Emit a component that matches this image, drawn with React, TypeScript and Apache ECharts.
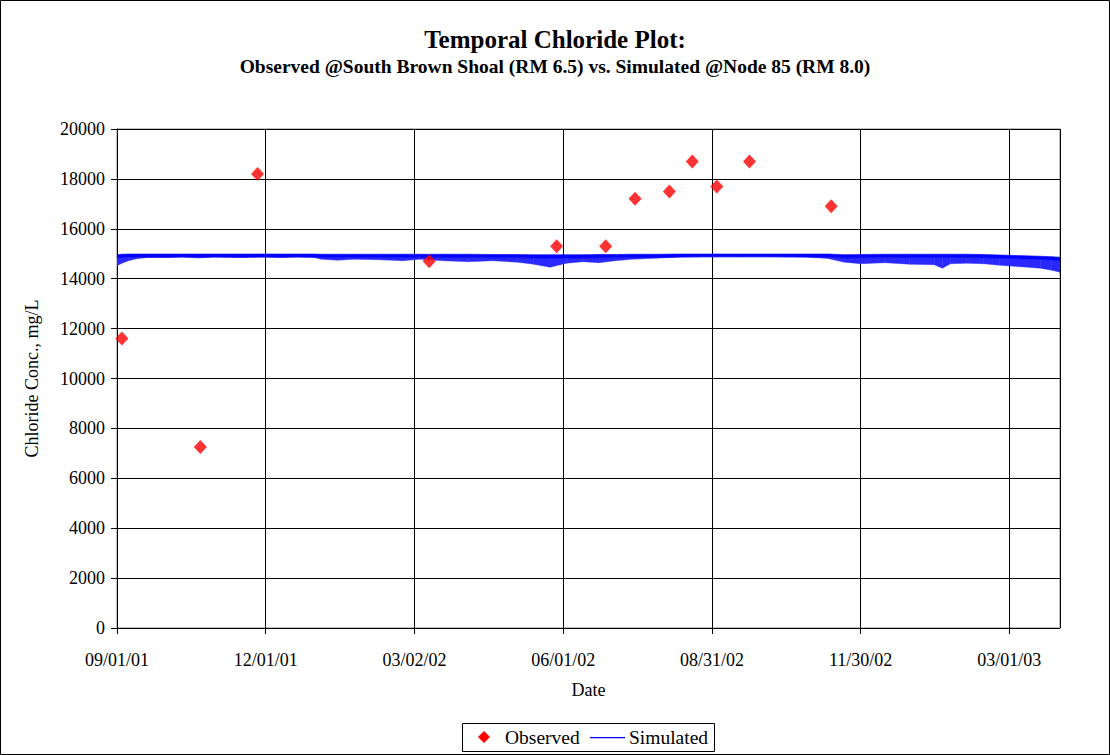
import React, { useEffect, useRef } from "react";
import * as echarts from "echarts";

// ---- Data ----
const observedDates = [
  "2001-09-04", "2001-10-22", "2001-11-26", "2002-03-11", "2002-05-28", "2002-06-27",
  "2002-07-15", "2002-08-05", "2002-08-19", "2002-09-03", "2002-09-23", "2002-11-12",
];
const observedValues = [11600, 7250, 18200, 14700, 15300, 15300, 17200, 17500, 18700, 17700, 18700, 16900];

// Simulated series: upper and lower envelope of the dense model trace
const simDates = [
  "2001-09-01", "2001-09-04", "2001-09-08", "2001-09-13", "2001-09-21", "2001-10-01",
  "2001-10-11", "2001-10-21", "2001-10-31", "2001-11-15", "2001-11-30", "2001-12-10",
  "2001-12-20", "2001-12-30", "2002-01-04", "2002-01-14", "2002-01-24", "2002-02-08",
  "2002-02-23", "2002-03-05", "2002-03-20", "2002-04-04", "2002-04-19", "2002-05-04",
  "2002-05-14", "2002-05-24", "2002-06-03", "2002-06-13", "2002-06-23", "2002-07-03",
  "2002-07-13", "2002-07-28", "2002-08-12", "2002-08-27", "2002-09-16", "2002-10-06",
  "2002-10-27", "2002-11-10", "2002-11-20", "2002-11-30", "2002-12-15", "2002-12-30",
  "2003-01-14", "2003-01-19", "2003-01-24", "2003-02-03", "2003-02-13", "2003-02-23",
  "2003-03-10", "2003-03-20", "2003-03-27", "2003-04-01",
];
const simHigh = [
  14960, 14980, 14990, 14990, 14990, 14990,
  14990, 14990, 14990, 14990, 14990, 14990,
  14990, 14990, 14980, 14980, 14980, 14980,
  14980, 14980, 14980, 14980, 14970, 14970,
  14960, 14960, 14960, 14960, 14970, 14970,
  14980, 14980, 14990, 14990, 14990, 14990,
  14990, 14990, 14960, 14970, 14980, 14980,
  14980, 14980, 14980, 14980, 14970, 14950,
  14920, 14900, 14880, 14860,
];
const simLow = [
  14520, 14620, 14720, 14800, 14860, 14850,
  14870, 14830, 14870, 14850, 14870, 14850,
  14870, 14860, 14780, 14740, 14780, 14760,
  14720, 14780, 14720, 14680, 14720, 14660,
  14580, 14460, 14620, 14680, 14640, 14720,
  14780, 14820, 14870, 14880, 14880, 14880,
  14870, 14810, 14660, 14600, 14640, 14580,
  14560, 14420, 14600, 14620, 14600, 14540,
  14470, 14420, 14340, 14260,
];

const yTicks = { min: 0, max: 20000, step: 2000 };
const xRange = { start: "2001-09-01", end: "2003-04-01", stepDays: 91 };

// ---- Helpers ----
const DAY = 86400000;
const toUTC = (s: string) => {
  const [y, m, d] = s.split("-").map(Number);
  return Date.UTC(y, m - 1, d);
};
const origin = toUTC(xRange.start);
const dayOf = (s: string) => (toUTC(s) - origin) / DAY;
const pad = (n: number) => (n < 10 ? "0" + n : String(n));
const fmtDay = (v: number) => {
  const d = new Date(origin + Math.round(v) * DAY);
  return `${pad(d.getUTCMonth() + 1)}/${pad(d.getUTCDate())}/${pad(d.getUTCFullYear() % 100)}`;
};

const FONT = "'Liberation Serif', 'Times New Roman', serif";
const BLUE = "rgb(0,0,255)";
const CORE = 130; // solid core thickness of the trace, in data units

export default function App() {
  const ref = useRef<HTMLDivElement>(null);

  useEffect(() => {
    if (!ref.current) return;
    const chart = echarts.init(ref.current, undefined, { renderer: "svg" });

    const simData = simDates.map((d, i) => [dayOf(d), simLow[i], simHigh[i]]);
    const obsData = observedDates.map((d, i) => [dayOf(d), observedValues[i]]);

    chart.setOption({
      animation: false,
      backgroundColor: "#ffffff",
      title: [
        {
          text: "Temporal Chloride Plot:",
          left: "center",
          top: 22,
          textStyle: { fontFamily: FONT, fontWeight: "bold", fontSize: 25, color: "#000" },
        },
        {
          text: "Observed @South Brown Shoal (RM 6.5) vs. Simulated @Node 85 (RM 8.0)",
          left: "center",
          top: 51,
          textStyle: { fontFamily: FONT, fontWeight: "bold", fontSize: 19.5, color: "#000" },
        },
      ],
      grid: {
        left: 117,
        right: 50,
        top: 129,
        bottom: 127,
        show: true,
        borderColor: "#808080",
        borderWidth: 1,
        backgroundColor: "transparent",
      },
      xAxis: {
        type: "value",
        min: 0,
        max: dayOf(xRange.end),
        interval: xRange.stepDays,
        name: "Date",
        nameLocation: "middle",
        nameGap: 53,
        nameTextStyle: { fontFamily: FONT, fontSize: 18, color: "#000" },
        axisLine: { show: true, onZero: false, lineStyle: { color: "#000", width: 1 } },
        axisTick: { show: true, length: 6, lineStyle: { color: "#000" } },
        axisLabel: {
          showMaxLabel: false,
          margin: 23,
          fontFamily: FONT,
          fontSize: 18,
          color: "#000",
          formatter: (v: number) => fmtDay(v),
        },
        splitLine: { show: true, lineStyle: { color: "#000", width: 1 } },
      },
      yAxis: {
        type: "value",
        min: yTicks.min,
        max: yTicks.max,
        interval: yTicks.step,
        name: "Chloride Conc., mg/L",
        nameLocation: "middle",
        nameGap: 76,
        nameRotate: 90,
        nameTextStyle: { fontFamily: FONT, fontSize: 18, color: "#000" },
        axisLine: { show: true, lineStyle: { color: "#000", width: 1 } },
        axisTick: { show: true, length: 6, lineStyle: { color: "#000" } },
        axisLabel: {
          margin: 12,
          fontFamily: FONT,
          fontSize: 18,
          color: "#000",
          formatter: (v: number) => String(v),
        },
        splitLine: { show: true, lineStyle: { color: "#000", width: 1 } },
      },
      series: [
        {
          name: "Simulated",
          type: "custom",
          data: simData,
          encode: { x: 0, y: [1, 2] },
          clip: true,
          z: 2,
          renderItem: (params: any, api: any) => {
            const i = params.dataIndex;
            if (i >= simData.length - 1) return null;
            const a = simData[i];
            const b = simData[i + 1];
            const aCore = Math.max(a[1], a[2] - CORE);
            const bCore = Math.max(b[1], b[2] - CORE);
            const ragged = {
              type: "polygon",
              shape: {
                points: [
                  api.coord([a[0], aCore]),
                  api.coord([b[0], bCore]),
                  api.coord([b[0], b[1]]),
                  api.coord([a[0], a[1]]),
                ],
              },
              style: { fill: "rgb(40,40,255)", stroke: "rgb(40,40,255)", lineWidth: 0.4 },
            };
            const core = {
              type: "polygon",
              shape: {
                points: [
                  api.coord([a[0], a[2]]),
                  api.coord([b[0], b[2]]),
                  api.coord([b[0], bCore]),
                  api.coord([a[0], aCore]),
                ],
              },
              style: { fill: BLUE, stroke: BLUE, lineWidth: 0.6 },
            };
            return { type: "group", children: [ragged, core] };
          },
        },
        {
          name: "Observed",
          type: "scatter",
          data: obsData,
          symbol: "diamond",
          symbolSize: [13, 14],
          itemStyle: { color: "#ff0000" },
          z: 5,
        },
      ],
      graphic: [
        {
          type: "rect",
          shape: { x: 0.5, y: 0.5, width: 1109, height: 754 },
          style: { fill: "none", stroke: "#000", lineWidth: 1 },
          silent: true,
        },
        {
          type: "group",
          left: 462,
          top: 723,
          children: [
            {
              type: "rect",
              shape: { x: 0.5, y: 0.5, width: 252, height: 28 },
              style: { fill: "#fff", stroke: "#000", lineWidth: 1 },
            },
            {
              type: "polygon",
              shape: { points: [[22, 8], [28, 14], [22, 20], [16, 14]] },
              style: { fill: "#ff0000" },
            },
            {
              type: "text",
              x: 43,
              y: 14,
              style: { text: "Observed", font: `19.5px ${FONT}`, fill: "#000", verticalAlign: "middle" },
            },
            {
              type: "rect",
              shape: { x: 128, y: 14, width: 35, height: 1.2 },
              style: { fill: BLUE },
            },
            {
              type: "text",
              x: 167,
              y: 14,
              style: { text: "Simulated", font: `19.5px ${FONT}`, fill: "#000", verticalAlign: "middle" },
            },
          ],
        },
      ],
    });

    return () => chart.dispose();
  }, []);

  return (
    <div
      ref={ref}
      style={{ position: "fixed", left: 0, top: 0, width: 1110, height: 755, background: "#fff" }}
    />
  );
}
